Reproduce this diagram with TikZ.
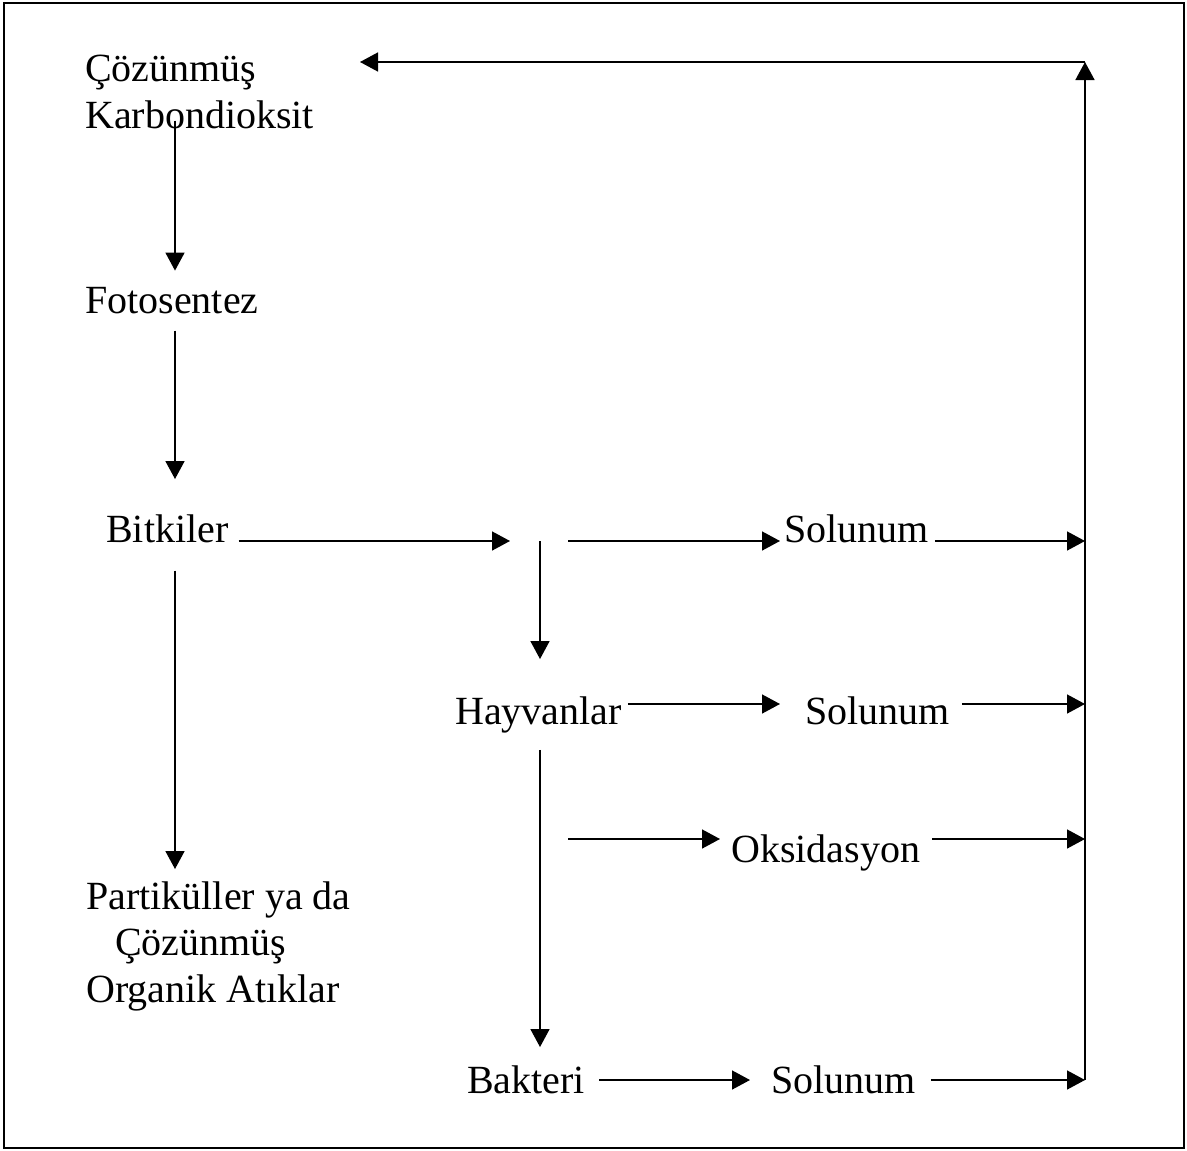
\documentclass[tikz,border=0pt]{standalone}
\usepackage{fontspec}
\setmainfont{Liberation Serif}
\usetikzlibrary{arrows.meta}
\begin{document}
\begin{tikzpicture}[x=1pt, y=-1pt,
		lbl/.style={anchor=base west, inner sep=0pt, align=left, font=\fontsize{40}{46.5}\selectfont},
		arr/.style={-{Triangle[length=18pt, width=19pt]}, line width=1.5pt}]
				\useasboundingbox (0,0) rectangle (1187,1151);
				\draw[line width=2pt] (4,3) rectangle (1184,1148);
				
				% text (base = last line)
				\node[lbl] (co2) at (85,128) {Çözünmüş\\Karbondioksit};
				\node[lbl] (foto) at (85,313) {Fotosentez};
				\node[lbl] (bitk) at (106,542) {Bitkiler};
				\node[lbl] (sol1) at (784,542) {Solunum};
				\node[lbl] (hayv) at (455,724) {Hayvanlar};
				\node[lbl] (sol2) at (805,724) {Solunum};
				\node[lbl] (oks) at (731,862) {Oksidasyon};
				\node[lbl] (partic) at (86,1002) {Partiküller ya da\\\hspace*{29pt}Çözünmüş\\Organik Atıklar};
				\node[lbl] (bakt) at (467,1093) {Bakteri};
				\node[lbl] (sol3) at (771,1093) {Solunum};
				
				% lanes and joints
				\coordinate (lane) at (175,0);
				\coordinate (split) at (540,541);
				\coordinate (in2) at (1085,704);
				\coordinate (in3) at (1085,839);
				\coordinate (in4) at (1085,1080);
				\coordinate (in1) at (1085,541);
				\coordinate (top) at (1085,62);
				\coordinate (back) at (360,62);
				
				% left column
				\draw[arr, shorten <=-8pt, shorten >=16pt] (co2.south -| lane) -- (foto.north -| lane);
				\draw[arr, shorten <=17pt, shorten >=35pt] (foto.south -| lane) -- (bitk.north -| lane);
				\draw[arr, shorten <=28pt, shorten >=12pt] (bitk.south -| lane) -- (partic.north -| lane);
				
				% plants row
				\draw[arr, shorten <=10pt, shorten >=30pt] (bitk.east |- split) -- (split);
				\draw[arr, shorten >=37pt] (split) -- (hayv.north -| split);
				\draw[arr, shorten <=28pt, shorten >=4pt] (split) -- (sol1.west |- split);
				\draw[arr, shorten <=6pt] (sol1.east |- in1) -- (in1);
				
				% animals
				\draw[arr, shorten <=6pt, shorten >=25pt] (hayv.east |- in2) -- (sol2.west |- in2);
				\draw[arr, shorten <=12pt] (sol2.east |- in2) -- (in2);
				\draw[arr, shorten <=17pt, shorten >=18pt] (hayv.south -| split) -- (bakt.north -| split);
				\draw[arr, shorten <=28pt, shorten >=11pt] (split |- in3) -- (oks.west |- in3);
				\draw[arr, shorten <=12pt] (oks.east |- in3) -- (in3);
				
				% bacteria
				\draw[arr, shorten <=14pt, shorten >=21pt] (bakt.east |- in4) -- (sol3.west |- in4);
				\draw[arr, shorten <=15pt] (sol3.east |- in4) -- (in4);
				
				% back to dissolved CO2
				\draw[arr] (in4) -- (top);
				\draw[arr] (top) -- (back);
			\end{tikzpicture}
\end{document}
